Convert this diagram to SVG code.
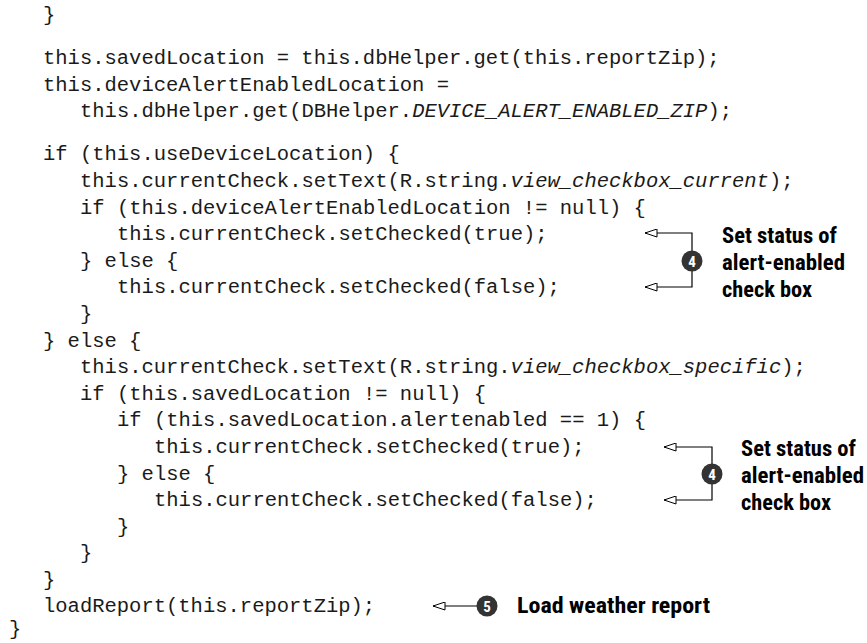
<svg xmlns="http://www.w3.org/2000/svg" width="867" height="643" viewBox="0 0 867 643">
  <style>
    .code { font-family: "Liberation Mono", "Courier New", monospace; font-size: 20.5px; fill: #1a1a1a; }
    .it { font-style: italic; }
    .note { font-family: "Liberation Sans Narrow", "Roboto Condensed", "Liberation Sans", sans-serif; font-weight: bold; font-size: 21.5px; fill: #000; }
    .badge { fill: #333; }
    .badge-num { font-family: "Liberation Sans Narrow", "Roboto Condensed", "Liberation Sans", sans-serif; font-weight: bold; font-size: 15px; fill: #fff; text-anchor: middle; }
    .wire { fill: none; stroke: #000; stroke-width: 1.2; }
  </style>
  <defs>
    <marker id="open-arrow" viewBox="0 0 13 9" refX="12.5" refY="4.5" markerWidth="13" markerHeight="9" markerUnits="userSpaceOnUse" orient="auto">
      <path d="M0.5,0.5 L12.5,4.5 L0.5,8.5 Z" fill="#fff" stroke="#000" stroke-width="1"/>
    </marker>
  </defs>
  <rect width="867" height="643" fill="#fff"/>

  <!-- listing -->
  <g id="code" class="code">
    <text x="43" y="21">}</text>
    <text x="43" y="64">this.savedLocation = this.dbHelper.get(this.reportZip);</text>
    <text x="43" y="91">this.deviceAlertEnabledLocation =</text>
    <text x="80" y="117">this.dbHelper.get(DBHelper.<tspan class="it">DEVICE_ALERT_ENABLED_ZIP</tspan>);</text>
    <text x="43" y="160">if (this.useDeviceLocation) {</text>
    <text x="80" y="187">this.currentCheck.setText(R.string.<tspan class="it">view_checkbox_current</tspan>);</text>
    <text x="80" y="214">if (this.deviceAlertEnabledLocation != null) {</text>
    <text x="117" y="240">this.currentCheck.setChecked(true);</text>
    <text x="80" y="267">} else {</text>
    <text x="117" y="293">this.currentCheck.setChecked(false);</text>
    <text x="80" y="320">}</text>
    <text x="43" y="347">} else {</text>
    <text x="80" y="373">this.currentCheck.setText(R.string.<tspan class="it">view_checkbox_specific</tspan>);</text>
    <text x="80" y="400">if (this.savedLocation != null) {</text>
    <text x="117" y="426">if (this.savedLocation.alertenabled == 1) {</text>
    <text x="154" y="453">this.currentCheck.setChecked(true);</text>
    <text x="117" y="480">} else {</text>
    <text x="154" y="506">this.currentCheck.setChecked(false);</text>
    <text x="117" y="533">}</text>
    <text x="80" y="559">}</text>
    <text x="43" y="586">}</text>
    <text x="43" y="612">loadReport(this.reportZip);</text>
    <text x="9" y="635">}</text>
  </g>

  <!-- callout leaders -->
  <g id="connectors" class="wire">
    <path d="M692,261 V233 H645" marker-end="url(#open-arrow)"/>
    <path d="M692,261 V287 H645" marker-end="url(#open-arrow)"/>
    <path d="M712,474 V447 H664" marker-end="url(#open-arrow)"/>
    <path d="M712,474 V500 H664" marker-end="url(#open-arrow)"/>
    <path d="M487,606 H433" marker-end="url(#open-arrow)"/>
  </g>

  <g id="callout-4a">
    <circle class="badge" cx="692" cy="261" r="10.5"/>
    <text class="badge-num" x="692" y="266.5">4</text>
    <text class="note" x="722" y="243" textLength="115" lengthAdjust="spacingAndGlyphs">Set status of</text>
    <text class="note" x="722" y="270" textLength="123" lengthAdjust="spacingAndGlyphs">alert-enabled</text>
    <text class="note" x="722" y="297" textLength="90" lengthAdjust="spacingAndGlyphs">check box</text>
  </g>

  <g id="callout-4b">
    <circle class="badge" cx="712" cy="474" r="10.5"/>
    <text class="badge-num" x="712" y="479.5">4</text>
    <text class="note" x="741" y="456" textLength="115" lengthAdjust="spacingAndGlyphs">Set status of</text>
    <text class="note" x="741" y="483" textLength="123" lengthAdjust="spacingAndGlyphs">alert-enabled</text>
    <text class="note" x="741" y="510" textLength="90" lengthAdjust="spacingAndGlyphs">check box</text>
  </g>

  <g id="callout-5">
    <circle class="badge" cx="487" cy="606" r="10.5"/>
    <text class="badge-num" x="487" y="611.5">5</text>
    <text class="note" x="517" y="613" textLength="193" lengthAdjust="spacingAndGlyphs">Load weather report</text>
  </g>
</svg>
